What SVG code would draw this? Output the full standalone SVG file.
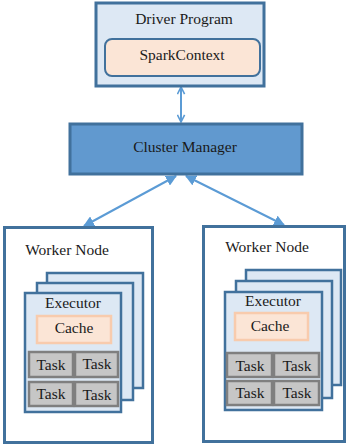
<svg xmlns="http://www.w3.org/2000/svg" width="349" height="447" viewBox="0 0 349 447">
  <style>
    text { font-family: "Liberation Serif", "DejaVu Serif", serif; font-size: 15.5px; fill: #1a1a1a; text-anchor: middle; }
    .panel { fill: #dde8f4; stroke: #41719c; stroke-width: 3; }
    .worker { fill: #ffffff; stroke: #41719c; stroke-width: 3; }
    .card { fill: #dde8f4; stroke: #41719c; stroke-width: 2.5; }
    .ctx { fill: #fbe5d6; stroke: #41719c; stroke-width: 2; }
    .cache { fill: #fbe5d6; stroke: #f8cbad; stroke-width: 2.5; }
    .task { fill: #c6c6c6; stroke: #7f7f7f; stroke-width: 2.5; }
    .mgr { fill: #6199cf; stroke: #41719c; stroke-width: 3; }
    .link { stroke: #5b9bd5; stroke-width: 2; fill: none; }
  </style>
  <defs>
    <marker id="chev" viewBox="0 0 10 10" refX="9" refY="5" markerWidth="9" markerHeight="9" orient="auto-start-reverse" markerUnits="userSpaceOnUse">
      <path d="M1,1 L9,5 L1,9" fill="none" stroke="#5b9bd5" stroke-width="1.8"/>
    </marker>
    <marker id="tri" viewBox="0 0 10 10" refX="9" refY="5" markerWidth="11" markerHeight="11" orient="auto-start-reverse" markerUnits="userSpaceOnUse">
      <path d="M0,0 L10,5 L0,10 Z" fill="#5b9bd5"/>
    </marker>
  </defs>

  <g id="connectors">
    <line class="link" x1="181" y1="87" x2="181" y2="122" marker-start="url(#chev)" marker-end="url(#chev)"/>
    <line class="link" x1="176" y1="176" x2="84" y2="226" marker-start="url(#tri)" marker-end="url(#tri)"/>
    <line class="link" x1="186" y1="176" x2="284" y2="225" marker-start="url(#tri)" marker-end="url(#tri)"/>
  </g>

  <g font-family="Liberation Serif, DejaVu Serif, serif">
  <g id="driver">
    <rect class="panel" x="96" y="3" width="168" height="83"/>
    <text x="184" y="24">Driver Program</text>
    <rect class="ctx" x="105" y="39" width="155" height="37" rx="7"/>
    <text x="182" y="60">SparkContext</text>
  </g>

  <g id="cluster-manager">
    <rect class="mgr" x="70" y="124" width="232" height="50"/>
    <text x="185" y="152">Cluster Manager</text>
  </g>

  <g id="worker-left">
    <rect class="worker" x="4.5" y="227.5" width="148" height="215"/>
    <text x="67" y="255">Worker Node</text>
    <rect class="card" x="47" y="273" width="96" height="115"/>
    <rect class="card" x="37" y="283" width="96" height="117"/>
    <rect class="card" x="25" y="293" width="96" height="119"/>
    <text x="73" y="308">Executor</text>
    <rect class="cache" x="37" y="316" width="74" height="27"/>
    <text x="74" y="333">Cache</text>
    <rect class="task" x="29" y="352" width="44" height="25"/>
    <rect class="task" x="75" y="352" width="43" height="25"/>
    <rect class="task" x="29" y="382" width="44" height="24"/>
    <rect class="task" x="75" y="382" width="43" height="24"/>
    <text x="51" y="370">Task</text>
    <text x="97" y="369">Task</text>
    <text x="51" y="399">Task</text>
    <text x="97" y="400">Task</text>
  </g>

  <g id="worker-right">
    <rect class="worker" x="203.5" y="226.5" width="141" height="215"/>
    <text x="267" y="252">Worker Node</text>
    <rect class="card" x="246" y="270" width="95" height="115"/>
    <rect class="card" x="236" y="281" width="96" height="117"/>
    <rect class="card" x="225" y="292" width="97" height="118"/>
    <text x="273" y="306">Executor</text>
    <rect class="cache" x="235" y="313" width="73" height="27"/>
    <text x="270" y="331">Cache</text>
    <rect class="task" x="227" y="353" width="45" height="24"/>
    <rect class="task" x="274" y="353" width="45" height="24"/>
    <rect class="task" x="227" y="381" width="45" height="24"/>
    <rect class="task" x="274" y="381" width="45" height="24"/>
    <text x="250" y="371">Task</text>
    <text x="297" y="371">Task</text>
    <text x="250" y="398">Task</text>
    <text x="297" y="398">Task</text>
  </g>
  </g>
</svg>
